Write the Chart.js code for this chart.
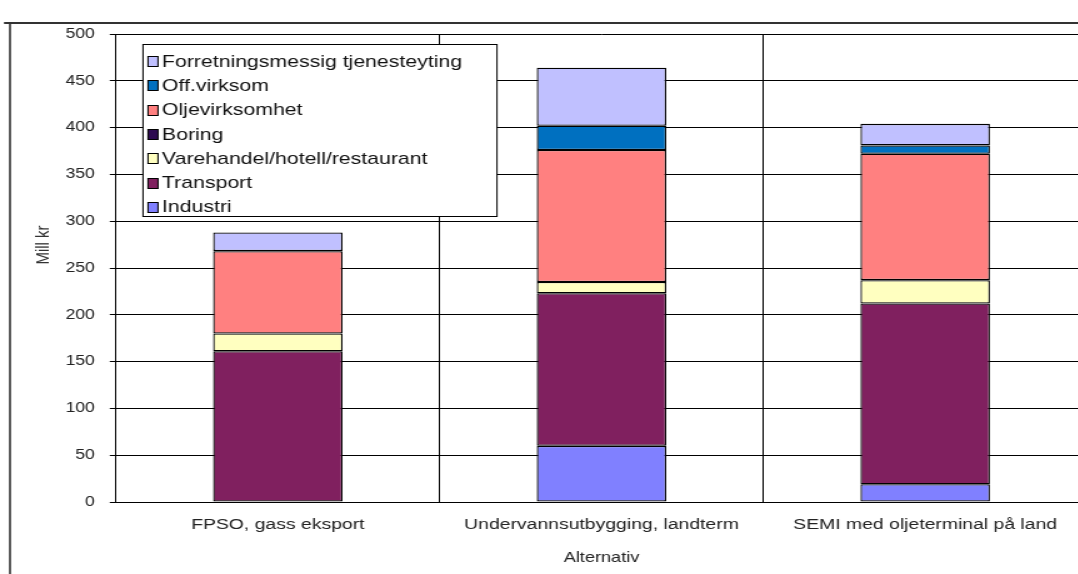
<!DOCTYPE html>
<html><head><meta charset="utf-8">
<script src="https://cdn.jsdelivr.net/npm/chart.js@4/dist/chart.umd.min.js"></script>
<style>html,body{margin:0;padding:0;background:#fff;overflow:hidden;width:1078px;height:574px}
#wrap{position:absolute;left:0;top:0;width:872px;height:574px;transform:scaleX(1.25);transform-origin:0 0}
</style></head><body>
<div id="wrap"><canvas id="c" width="872" height="574"></canvas></div>
<script>
const categories = ['FPSO, gass eksport', 'Undervannsutbygging, landterm', 'SEMI med oljeterminal på land'];
const industri = [0, 60, 19];
const transport = [161, 163, 193];
const varehandel = [19, 12, 25];
const boring = [0, 0, 0];
const oljevirksomhet = [88, 141, 135];
const offVirksom = [0, 26, 9];
const forretning = [20, 62, 23];
const seriesNames = ['Industri', 'Transport', 'Varehandel/hotell/restaurant', 'Boring', 'Oljevirksomhet', 'Off.virksom', 'Forretningsmessig tjenesteyting'];
const seriesColors = ['#8080FF', '#80205F', '#FFFFC0', '#2D0A50', '#FF8080', '#0070C0', '#C0C0FF'];
const yMin = 0, yMax = 500, yStep = 50;
const yTitle = 'Mill kr';
const xTitle = 'Alternativ';

const seriesData = [industri, transport, varehandel, boring, oljevirksomhet, offVirksom, forretning];
const FONT = '"Liberation Sans", Arial, sans-serif';
const S = 1.25; // horizontal stretch of the page

const framePlugin = {
  id: 'frame',
  beforeDraw(chart) {
    const ctx = chart.ctx;
    ctx.save();
    ctx.fillStyle = '#fff';
    ctx.fillRect(0, 0, chart.width, chart.height);
    ctx.strokeStyle = '#333';
    ctx.lineWidth = 2;
    ctx.beginPath();
    ctx.moveTo(4 / S, 23); ctx.lineTo(chart.width, 23);
    ctx.stroke();
    ctx.lineWidth = 1.6;
    ctx.beginPath();
    ctx.moveTo(10 / S, 22); ctx.lineTo(10 / S, chart.height);
    ctx.stroke();
    ctx.restore();
  },
  afterDraw(chart) {
    const ctx = chart.ctx;
    ctx.save();
    ctx.translate(43 / S, 245);
    ctx.rotate(-Math.PI / 2);
    ctx.fillStyle = '#333';
    ctx.font = '15px ' + FONT;
    ctx.textAlign = 'center';
    ctx.textBaseline = 'middle';
    ctx.fillText(yTitle, 0, 0);
    ctx.restore();
    // legend box
    ctx.save();
    const bx = 143 / S, by = 44.5, bw = 354 / S, bh = 172;
    ctx.fillStyle = '#fff';
    ctx.fillRect(bx, by, bw, bh);
    ctx.strokeStyle = '#000';
    ctx.lineWidth = 1;
    ctx.strokeRect(bx, by, bw, bh);
    ctx.font = '17px ' + FONT;
    ctx.textBaseline = 'middle';
    ctx.textAlign = 'left';
    const ds = chart.data.datasets;
    let k = 0;
    for (let i = ds.length - 1; i >= 0; i--) {
      const ry = 61 + k * 24.3;
      const my = Math.round(ry - 5) + 0.5;
      ctx.fillStyle = ds[i].backgroundColor;
      ctx.fillRect(148 / S, my, 10 / S, 10);
      ctx.strokeStyle = '#000';
      ctx.strokeRect(148 / S, my, 10 / S, 10);
      ctx.fillStyle = '#111';
      ctx.fillText(ds[i].label, 162 / S, ry + 1);
      k++;
    }
    ctx.restore();
  }
};

new Chart(document.getElementById('c'), {
  type: 'bar',
  data: {
    labels: categories,
    datasets: seriesNames.map((n, i) => ({
      label: n,
      data: seriesData[i].map(v => (v === 0 ? null : v)),
      backgroundColor: seriesColors[i],
      borderColor: '#000',
      borderWidth: 1.3,
      borderSkipped: false,
      categoryPercentage: 1,
      barPercentage: 0.4
    }))
  },
  options: {
    responsive: false,
    devicePixelRatio: 1,
    animation: false,
    events: [],
    layout: { padding: { left: 0, right: 2.4, top: 34, bottom: 0 } },
    plugins: { legend: { display: false }, tooltip: { enabled: false } },
    scales: {
      x: {
        stacked: true,
        afterFit(s) { s.height = 72; },
        grid: { color: '#000', lineWidth: 1, offset: true, drawTicks: false },
        border: { color: '#000', width: 1 },
        ticks: { color: '#222', font: { family: FONT, size: 15.5 }, padding: 13, maxRotation: 0 },
        title: { display: true, text: xTitle, color: '#222', font: { family: FONT, size: 14.5 }, padding: { top: 2, bottom: 7 } }
      },
      y: {
        stacked: true,
        min: yMin, max: yMax,
        afterFit(s) { s.width = 116 / S; },
        grid: { color: '#000', lineWidth: 1, tickLength: 5, tickColor: '#000' },
        border: { color: '#000', width: 1 },
        ticks: { stepSize: yStep, color: '#222', font: { family: FONT, size: 14 }, padding: 12 }
      }
    }
  },
  plugins: [framePlugin]
});
</script>
</body></html>
